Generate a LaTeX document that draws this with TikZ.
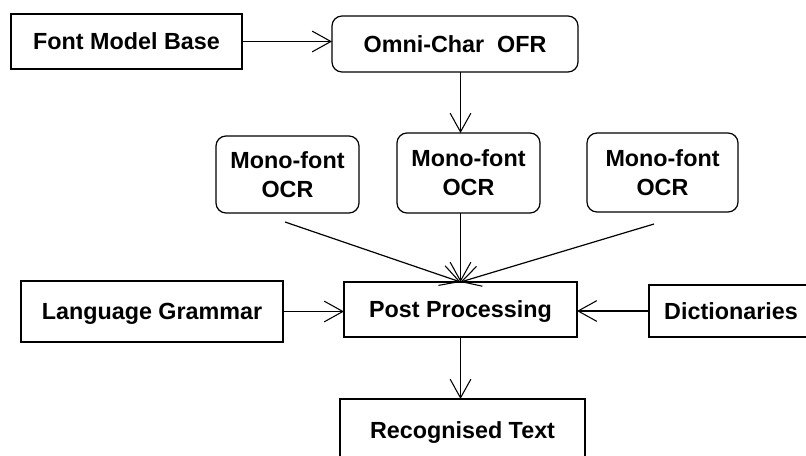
\documentclass[tikz,border=0pt]{standalone}
\usepackage{fontspec}
\setmainfont{Liberation Sans}
\usetikzlibrary{arrows.meta}
\begin{document}
\begin{tikzpicture}[x=0.75pt,y=-0.75pt,
  every node/.style={inner sep=0pt,outer sep=0pt,font=\fontsize{17.5}{21.75}\selectfont\bfseries,align=center},
  oneline/.style={text height=12.5pt,text depth=0pt},
  sqbox/.style={draw,line width=0.9pt,oneline},
  rbox/.style={draw,line width=0.9pt,rounded corners=7.5pt},
  arr/.style={line width=0.9pt,-{Straight Barb[length=14pt,width=15.5pt,line width=0.8pt]}}]
\useasboundingbox (0,0) rectangle (806,456);
\clip (0,0) rectangle (806,456);
\node[sqbox,minimum width=173.25pt,minimum height=41.25pt] (fmb) at (126.5,41.5) {Font Model Base};
\node[rbox,oneline,minimum width=184.5pt,minimum height=42pt] (omni) at (455,44) {Omni-Char\ \ OFR};
\node[rbox,minimum width=107.25pt,minimum height=57.75pt] (m1) at (287.5,174.5) {Mono-font\\OCR};
\node[rbox,minimum width=107.25pt,minimum height=60pt] (m2) at (468.5,173) {Mono-font\\OCR};
\node[rbox,minimum width=113.25pt,minimum height=59.25pt] (m3) at (662.5,172.5) {Mono-font\\OCR};
\node[sqbox,minimum width=196.5pt,minimum height=45.75pt] (lg) at (152,311.5) {Language Grammar};
\node[sqbox,minimum width=174.75pt,minimum height=41.25pt] (pp) at (460.5,309.5) {Post Processing};
\node[sqbox,minimum width=123pt,minimum height=39pt] (dic) at (731,311) {Dictionaries};
\node[sqbox,minimum width=183.75pt,minimum height=46.5pt] (rt) at (462.5,430) {Recognised Text};
\coordinate (m1s) at (285,222);
\coordinate (m3s) at (654,224);
\draw[arr] (fmb.east) -- (fmb.east -| omni.west);
\draw[arr] (omni.south -| pp.north) -- (m2.north -| pp.north);
\draw[arr] (m2.south -| pp.north) -- (pp.north);
\draw[arr] (m1s) -- (pp.north);
\draw[arr] (m3s) -- (pp.north);
\draw[arr] (lg.east) -- (lg.east -| pp.west);
\draw[arr] (dic.west) -- (dic.west -| pp.east);
\draw[arr] (pp.south) -- (pp.south |- rt.north);
\end{tikzpicture}
\end{document}
